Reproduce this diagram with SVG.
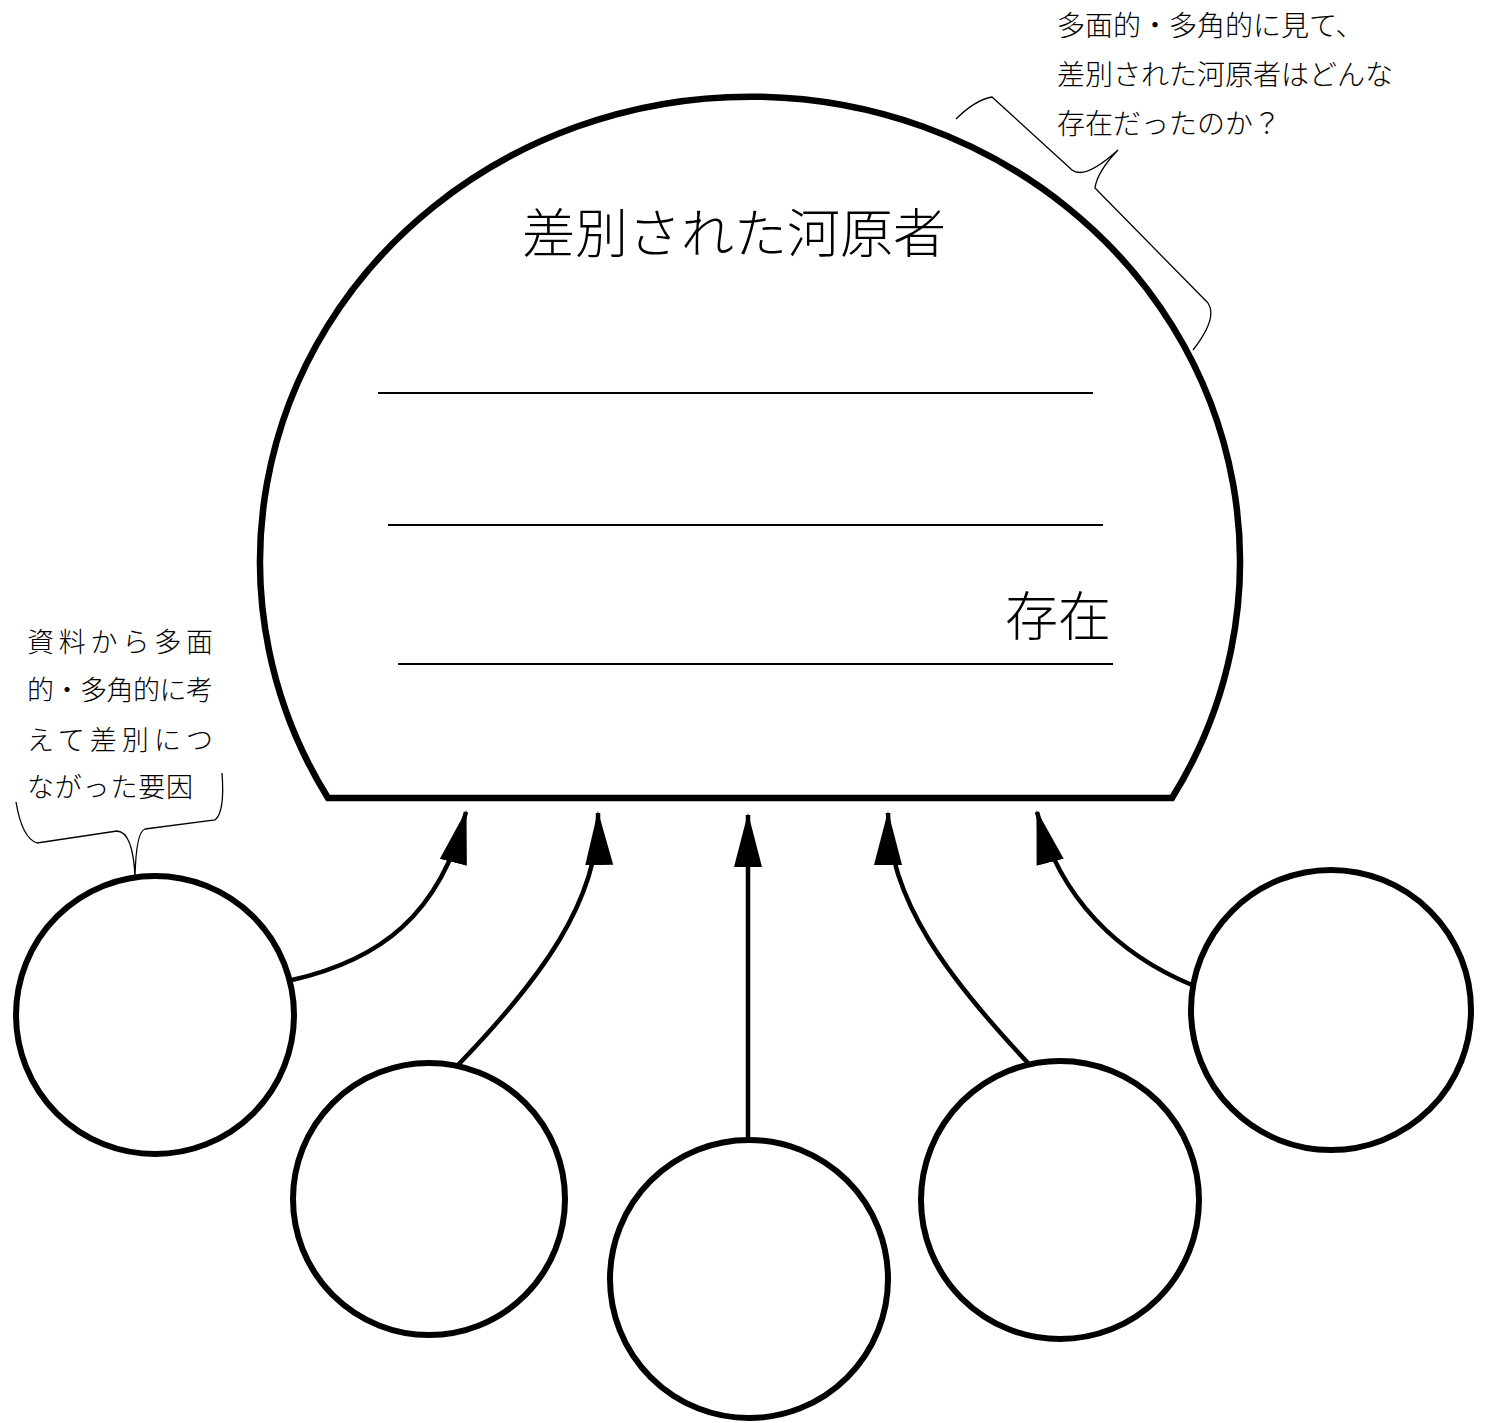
<svg xmlns="http://www.w3.org/2000/svg" width="1487" height="1423" viewBox="0 0 1487 1423">
<style>
.thick{fill:none;stroke:#000;stroke-width:6.5}
.node{fill:#fff;stroke:#000;stroke-width:6}
.rule{stroke:#000;stroke-width:2}
.conn{fill:none;stroke:#000;stroke-width:4.5}
.brace{fill:none;stroke:#000;stroke-width:1.3}
text{font-family:"Noto Sans CJK JP","Noto Sans CJK SC",sans-serif;fill:#000;font-weight:300}
.big{font-size:53px}
.note{font-size:28px}
.lnote{font-size:27px}
</style>
<defs>
<marker id="ah" markerUnits="userSpaceOnUse" markerWidth="60" markerHeight="40" refX="52" refY="14" orient="auto">
<path d="M0,0 L54,14 L0,28 Z" fill="#000"/>
</marker>
</defs>
<rect width="1487" height="1423" fill="#fff"/>
<g id="dome">
<path class="thick" d="M328,798 A490,465 0 1 1 1172,798 Z"/>
<line class="rule" x1="378" y1="393" x2="1093" y2="393"/>
<line class="rule" x1="388" y1="525" x2="1103" y2="525"/>
<line class="rule" x1="398" y1="664" x2="1113" y2="664"/>
<text class="big" x="522" y="253">差別された河原者</text>
<text class="big" x="1005" y="636">存在</text>
</g>
<g id="note-top">
<path class="brace" d="M956,119 Q975,100 992,97 L1072,170 Q1085,180 1118,150 Q1097,172 1095,188 L1208,303 Q1218,318 1193,350"/>
<text class="note" x="1057" y="36">多面的・多角的に見て、</text>
<text class="note" x="1057" y="85">差別された河原者はどんな</text>
<text class="note" x="1057" y="134">存在だったのか？</text>
</g>
<g id="note-left">
<path class="brace" d="M16,802 Q22,838 37,843 L117,831 Q133,832 135,877 Q136,832 145,829 L215,820 Q225,812 222,773"/>
<text class="lnote" x="27" y="652" textLength="186" lengthAdjust="spacing">資料から多面</text>
<text class="lnote" x="27" y="700" textLength="186" lengthAdjust="spacing">的・多角的に考</text>
<text class="lnote" x="27" y="750" textLength="186" lengthAdjust="spacing">えて差別につ</text>
<text class="lnote" x="27" y="797" textLength="166" lengthAdjust="spacing">ながった要因</text>
</g>
<g id="connectors">
<path class="conn" marker-end="url(#ah)" d="M292,980 C380,960 440,915 466,812"/>
<path class="conn" marker-end="url(#ah)" d="M458,1065 C540,980 600,900 598,813"/>
<path class="conn" marker-end="url(#ah)" d="M748,1140 L748,815"/>
<path class="conn" marker-end="url(#ah)" d="M1028,1063 C950,980 888,900 888,813"/>
<path class="conn" marker-end="url(#ah)" d="M1192,985 C1120,955 1060,900 1037,812"/>
</g>
<g id="n1"><circle class="node" cx="155" cy="1015" r="139"/></g>
<g id="n2"><circle class="node" cx="429" cy="1199" r="136"/></g>
<g id="n3"><circle class="node" cx="749" cy="1279" r="139"/></g>
<g id="n4"><circle class="node" cx="1060" cy="1200" r="139"/></g>
<g id="n5"><circle class="node" cx="1331" cy="1010" r="140"/></g>
</svg>
